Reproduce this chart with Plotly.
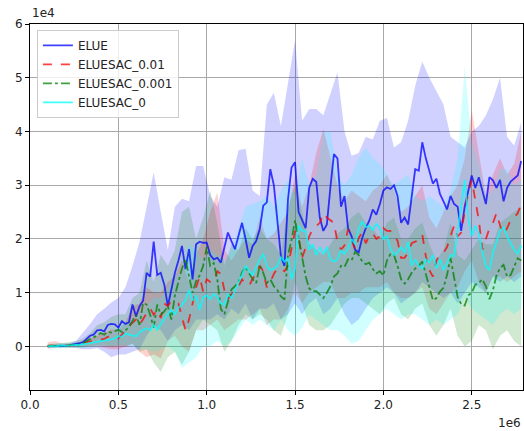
import numpy as np
import plotly.graph_objects as go

# timesteps in units of 1e6, returns in units of 1e4
step = np.round(np.arange(0.10, 2.781, 0.02), 2)
band_step = np.round(np.arange(0.10, 2.781, 0.04), 2)

elue = [
    0.0, 0.0, 0.0, 0.0, 0.01, 0.01, 0.02, 0.03, 0.05, 0.06,
    0.08, 0.14, 0.2, 0.22, 0.3, 0.31, 0.28, 0.4, 0.42, 0.41,
    0.35, 0.47, 0.42, 0.45, 0.78, 0.56, 0.75, 0.85, 1.37, 1.3,
    1.95, 1.33, 1.37, 1.15, 0.75, 1.06, 1.37, 1.6, 1.87, 1.44,
    1.81, 1.25, 1.9, 1.95, 1.93, 1.93, 1.7, 1.62, 1.65, 1.56,
    1.87, 2.12, 1.96, 1.81, 2.06, 2.3, 2.0, 1.65, 1.87, 1.96,
    2.18, 2.62, 2.68, 3.3, 3.0, 2.35, 1.68, 1.5, 2.74, 3.33,
    3.43, 2.5, 2.34, 2.2, 2.95, 3.12, 3.06, 2.4, 2.15, 2.27,
    2.96, 3.58, 3.5, 2.6, 2.8, 2.2, 2.05, 1.8, 1.75, 2.02,
    2.2, 2.34, 2.55, 2.45, 2.65, 2.9, 2.96, 2.93, 3.0, 2.8,
    2.3, 2.4, 2.27, 2.8, 3.3, 3.27, 3.8, 3.5, 3.27, 3.03,
    3.12, 2.84, 2.7, 2.55, 2.8, 2.65, 2.6, 2.15, 2.6, 2.9,
    3.18, 2.95, 3.15, 2.9, 2.65, 3.15, 3.09, 2.95, 3.1, 2.7,
    2.95, 3.07, 3.12, 3.18, 3.45,
]
sac_001 = [
    0.01, 0.02, 0.01, 0.0, 0.01, 0.02, 0.01, 0.02, 0.03, 0.05,
    0.06, 0.08, 0.09, 0.1, 0.11, 0.12, 0.14, 0.18, 0.19, 0.16,
    0.15, 0.22, 0.28, 0.38, 0.45, 0.5, 0.4, 0.52, 0.62, 0.71,
    0.59, 0.68, 0.53, 0.8, 0.75, 0.85, 0.82, 0.8, 0.55, 0.3,
    0.5, 0.78, 1.1, 1.3, 1.02, 1.25, 1.2, 1.2, 1.4, 1.35,
    1.05, 0.88, 0.98, 1.06, 1.12, 1.25, 1.17, 1.13, 1.26, 1.35,
    1.5, 1.4, 1.1, 1.2, 1.35, 1.45, 1.45, 1.4, 1.5, 1.85,
    2.15, 2.02, 1.65, 1.84, 2.05, 2.18, 2.25, 2.3, 2.48, 2.4,
    2.35, 2.3, 1.95, 1.8, 1.88, 2.18, 1.98, 1.8, 2.02, 2.12,
    1.92, 2.05, 2.1, 2.0, 2.05, 2.2, 2.15, 2.15, 2.05, 1.97,
    1.65, 1.65, 1.75, 1.92, 1.95, 1.98, 2.08, 1.68, 1.42, 1.3,
    1.6, 1.71, 1.74, 1.85, 2.05, 2.25, 2.05, 2.12, 2.5, 2.85,
    3.1, 2.7, 2.35, 1.8, 2.0, 2.2, 2.3, 2.48, 2.25, 2.1,
    2.2, 2.35, 2.4, 2.48, 2.65,
]
sac_0001 = [
    0.0, 0.01, 0.01, 0.02, 0.01, 0.0, 0.02, 0.03, 0.02, 0.04,
    0.06, 0.1, 0.14, 0.17, 0.2, 0.25, 0.22, 0.27, 0.26, 0.29,
    0.31, 0.27, 0.3, 0.36, 0.48, 0.59, 0.4, 0.81, 0.78, 0.59,
    0.35, 0.78, 0.59, 0.65, 0.75, 0.5, 0.95, 1.2, 1.45, 1.62,
    1.3, 1.0, 1.22, 1.32, 1.5, 1.85, 1.5, 1.55, 1.25, 0.7,
    0.6, 0.85, 1.06, 1.12, 1.2, 1.38, 1.48, 1.36, 1.25, 1.18,
    1.5, 1.37, 1.18, 1.25, 1.12, 1.05, 0.93, 0.87, 1.7, 1.98,
    2.35, 2.02, 1.65, 1.3, 1.08, 1.03, 1.03, 0.97, 0.9, 1.0,
    1.12, 1.3, 1.36, 1.5, 1.48, 1.62, 1.6, 1.76, 1.7, 1.58,
    1.53, 1.56, 1.44, 1.36, 1.4, 1.32, 1.6, 1.72, 1.7, 1.5,
    1.25, 1.17, 1.25, 1.37, 1.45, 1.5, 1.58, 1.35, 1.08, 0.86,
    0.9, 1.02, 1.09, 1.33, 1.65, 1.25, 0.92, 0.79, 0.76, 0.95,
    1.0, 1.15, 1.18, 1.25, 1.12, 0.88, 1.05, 1.32, 1.46, 1.52,
    1.3, 1.33, 1.5, 1.64, 1.6,
]
sac_0 = [
    0.0, 0.01, 0.0, 0.01, 0.02, 0.01, 0.02, 0.02, 0.03, 0.03,
    0.04, 0.05, 0.06, 0.07, 0.08, 0.09, 0.1, 0.12, 0.13, 0.15,
    0.19, 0.18, 0.24, 0.22, 0.2, 0.19, 0.26, 0.31, 0.34, 0.3,
    0.4, 0.31, 0.42, 0.52, 0.6, 0.68, 0.6, 0.72, 0.78, 0.86,
    1.05, 0.85, 0.95, 0.68, 0.92, 0.95, 0.88, 0.98, 0.92, 0.8,
    0.78, 0.97, 0.9, 1.05, 1.18, 1.33, 1.5, 1.4, 1.33, 1.48,
    1.62, 1.72, 1.5, 1.42, 1.45, 1.5, 1.66, 1.58, 1.65, 1.25,
    1.45, 2.25, 2.15, 2.15, 1.8, 1.9, 1.7, 1.85, 1.72, 1.85,
    1.62, 1.58, 1.62, 1.8, 1.72, 1.82, 2.0, 1.9, 2.2, 2.32,
    2.22, 2.25, 2.17, 2.28, 2.2, 2.0, 2.05, 1.82, 1.7, 1.75,
    1.85, 1.75, 1.95, 1.5, 1.62, 1.5, 1.45, 1.62, 1.56, 1.7,
    1.45, 1.63, 1.42, 1.55, 1.7, 1.68, 2.1, 2.6, 3.1, 2.4,
    2.05, 2.25, 2.1, 1.75, 1.5, 1.42, 1.75, 1.95, 2.15, 2.22,
    2.05, 1.92, 1.8, 1.72, 1.88,
]

# band edges (mean +/- std), sampled on band_step
elue_hi = [
    0.02, 0.03, 0.04, 0.06, 0.1, 0.25, 0.42, 0.6, 0.7, 0.82,
    0.9, 1.1, 1.5, 1.95, 2.6, 3.24, 2.5, 1.8, 2.6, 2.75,
    2.7, 3.36, 3.36, 2.8, 2.6, 3.15, 3.1, 3.65, 3.68, 2.9,
    2.8, 4.5, 4.72, 4.1, 4.9, 5.7, 4.2, 4.42, 4.42, 4.3,
    4.7, 5.1, 4.0, 3.55, 3.6, 3.9, 3.85, 4.2, 4.25, 3.7,
    3.8, 4.2, 4.85, 5.3, 5.0, 4.75, 4.5, 3.9, 3.8, 3.7,
    4.0, 4.1, 4.3, 4.6, 5.0, 3.9, 3.74, 4.17,
]
elue_lo = [
    -0.01, -0.01, -0.02, -0.02, -0.03, -0.05, -0.05, -0.03, -0.1, -0.2,
    -0.15, -0.15, -0.1, -0.05, 0.2, 0.4, 0.3, 0.1, 0.3, 0.4,
    0.3, 0.5, 0.5, 0.5, 0.6, 0.5, 0.7, 0.6, 0.8, 0.5,
    0.7, 0.7, 0.8, 0.5, 0.6, 0.8, 0.6, 0.8, 0.9, 0.6,
    0.7, 0.9, 0.6, 0.4, 0.5, 0.7, 0.9, 1.0, 1.1, 1.0,
    0.8, 0.9, 1.0, 1.2, 1.1, 1.0, 0.9, 1.0, 0.8, 1.0,
    1.2, 1.1, 1.0, 1.3, 1.2, 1.3, 1.2, 1.3,
]
sac_001_hi = [
    0.08, 0.1, 0.06, 0.05, 0.06, 0.1, 0.15, 0.2, 0.25, 0.32,
    0.3, 0.45, 0.75, 0.8, 1.1, 1.0, 1.0, 1.2, 1.3, 1.6,
    1.2, 1.7, 2.0, 2.5, 2.87, 1.8, 1.6, 1.8, 2.0, 1.9,
    2.4, 2.0, 2.1, 2.3, 2.5, 3.2, 2.6, 3.0, 3.6, 4.05,
    3.5, 3.0, 2.7, 2.9, 2.8, 2.7, 2.9, 3.0, 3.2, 2.9,
    2.5, 2.6, 2.8, 3.0, 2.4, 2.2, 2.5, 2.8, 3.0, 3.5,
    4.4, 3.6, 2.8, 3.2, 3.5, 3.2, 3.4, 4.0,
]
sac_001_lo = [
    -0.04, -0.03, -0.02, -0.01, -0.01, 0.0, 0.0, 0.0, -0.02, -0.05,
    -0.05, 0.0, 0.05, -0.1, -0.2, -0.15, -0.22, 0.1, 0.2, 0.0,
    -0.1, 0.3, 0.3, 0.4, 0.5, 0.3, 0.4, 0.5, 0.5, 0.6,
    0.7, 0.4, 0.5, 0.5, 0.7, 1.0, 0.8, 1.0, 1.1, 1.2,
    1.2, 0.9, 0.9, 1.0, 1.0, 1.1, 1.1, 1.1, 1.2, 1.0,
    0.9, 0.9, 1.0, 1.1, 0.7, 0.6, 0.8, 1.0, 1.1, 1.4,
    1.6, 1.2, 1.0, 1.3, 1.3, 1.2, 1.3, 1.4,
]
sac_0001_hi = [
    0.04, 0.05, 0.06, 0.08, 0.1, 0.15, 0.25, 0.4, 0.45, 0.55,
    0.6, 0.6, 0.9, 1.0, 1.6, 1.2, 1.7, 1.5, 1.8, 2.5,
    2.6, 2.0, 2.4, 2.9, 2.3, 1.5, 1.9, 1.8, 2.2, 2.0,
    2.2, 2.0, 1.9, 1.7, 2.6, 3.0, 2.5, 1.9, 1.8, 1.7,
    1.9, 2.1, 2.2, 2.4, 2.5, 2.3, 2.2, 2.0, 2.3, 2.4,
    2.0, 2.0, 2.2, 2.3, 1.9, 1.6, 1.8, 2.3, 1.7, 1.6,
    1.8, 2.0, 1.9, 1.9, 2.3, 2.4, 2.5, 2.6,
]
sac_0001_lo = [
    -0.02, -0.02, -0.03, -0.02, -0.02, -0.02, 0.0, 0.02, 0.02, 0.0,
    0.02, 0.0, 0.05, -0.1, -0.05, -0.3, -0.47, -0.2, -0.1, -0.34,
    -0.1, 0.3, 0.5, 0.4, 0.3, -0.1, 0.1, 0.4, 0.6, 0.5,
    0.6, 0.5, 0.3, 0.2, 0.6, 1.2, 0.8, 0.4, 0.3, 0.3,
    0.4, 0.6, 0.8, 0.9, 0.9, 0.8, 0.7, 0.6, 0.8, 0.9,
    0.6, 0.5, 0.7, 0.8, 0.4, 0.2, 0.4, 0.7, 0.2, 0.0,
    0.1, 0.4, 0.3, -0.05, 0.2, 0.3, 0.1, 0.0,
]
sac_0_hi = [
    0.05, 0.06, 0.06, 0.06, 0.07, 0.08, 0.1, 0.15, 0.2, 0.25,
    0.35, 0.45, 0.5, 0.6, 0.75, 0.9, 0.9, 1.1, 1.3, 1.4,
    1.9, 1.8, 1.6, 1.8, 1.7, 1.6, 1.8, 2.2, 2.6, 2.65,
    2.7, 2.8, 2.6, 2.9, 3.1, 2.8, 3.5, 3.0, 3.2, 4.0,
    4.0, 3.2, 3.0, 3.2, 3.5, 3.7, 3.5, 3.4, 3.2, 3.0,
    3.1, 3.2, 2.8, 2.7, 2.8, 2.7, 2.6, 2.9, 3.5, 5.2,
    3.8, 3.4, 2.8, 2.9, 3.3, 3.3, 3.0, 3.1,
]
sac_0_lo = [
    -0.03, -0.04, -0.03, -0.02, -0.02, -0.02, -0.01, 0.0, 0.0, 0.01,
    0.02, 0.03, 0.0, -0.05, -0.05, -0.1, -0.05, 0.0, -0.1, -0.4,
    -0.3, -0.2, 0.0, 0.0, 0.1, 0.0, 0.1, 0.3, 0.5, 0.4,
    0.5, 0.4, 0.3, 0.5, 0.3, 0.2, 0.35, 0.6, 0.5, 0.4,
    0.3, 0.3, 0.2, 0.05, 0.1, 0.3, 0.5, 0.6, 0.7, 0.6,
    0.5, 0.6, 0.6, 0.5, 0.4, 0.5, 0.4, 0.5, 0.6, 0.9,
    0.7, 0.6, 0.5, 0.4, 0.6, 0.7, 0.6, 0.7,
]

names = ["ELUE", "ELUESAC_0.01", "ELUESAC_0.001", "ELUESAC_0"]
means = [elue, sac_001, sac_0001, sac_0]
highs = [elue_hi, sac_001_hi, sac_0001_hi, sac_0_hi]
lows = [elue_lo, sac_001_lo, sac_0001_lo, sac_0_lo]
rgb = ["0,0,255", "255,0,0", "0,128,0", "0,255,255"]
dashes = ["solid", "dash", "dashdot", "solid"]

fig = go.Figure()

for hi, lo, c in zip(highs, lows, rgb):
    fig.add_trace(go.Scatter(
        x=np.concatenate([band_step, band_step[::-1]]),
        y=np.concatenate([hi, lo[::-1]]),
        fill="toself", fillcolor=f"rgba({c},0.18)",
        line=dict(width=0), mode="lines",
        showlegend=False, hoverinfo="skip",
    ))

for name, m, c, d in zip(names, means, rgb, dashes):
    fig.add_trace(go.Scatter(
        x=step, y=m, mode="lines", name=name,
        line=dict(color=f"rgba({c},0.75)", width=1.8, dash=d),
    ))

axis_style = dict(
    showline=True, linecolor="black", linewidth=1, mirror=True,
    showgrid=True, gridcolor="#a8a8a8", gridwidth=1,
    ticks="outside", ticklen=4, tickcolor="black",
    zeroline=False, automargin=False,
    tickfont=dict(size=12, color="#222"),
)

fig.update_xaxes(
    range=[0, 2.79], tickvals=[0, 0.5, 1.0, 1.5, 2.0, 2.5],
    ticktext=["0.0", "0.5", "1.0", "1.5", "2.0", "2.5"], **axis_style,
)
fig.update_yaxes(
    range=[-0.81, 6.0], tickvals=[0, 1, 2, 3, 4, 5, 6],
    ticktext=["0", "1", "2", "3", "4", "5", "6"], **axis_style,
)

fig.add_annotation(text="1e4", x=0, y=1, xref="paper", yref="paper",
                   xanchor="left", yanchor="bottom", yshift=2,
                   showarrow=False, font=dict(size=12, color="#222"))
fig.add_annotation(text="1e6", x=1, y=0, xref="paper", yref="paper",
                   xanchor="right", yanchor="top", yshift=-24,
                   showarrow=False, font=dict(size=12, color="#222"))

fig.update_layout(
    width=524, height=431,
    margin=dict(l=30, r=1, t=24, b=41),
    plot_bgcolor="white", paper_bgcolor="white",
    font=dict(family="DejaVu Sans"),
    legend=dict(
        x=0.014, y=0.984, xanchor="left", yanchor="top",
        bgcolor="rgba(255,255,255,0.8)", bordercolor="#cccccc", borderwidth=1,
        font=dict(size=12, color="#222"), tracegroupgap=0,
    ),
)

# page body has a default 8px margin; drop it so the figure sits at the corner
fig.write_html(
    "out.html",
    config={"displayModeBar": False},
    default_width="524px", default_height="431px",
    post_script="document.body.style.margin='0';document.body.style.overflow='hidden';",
)
